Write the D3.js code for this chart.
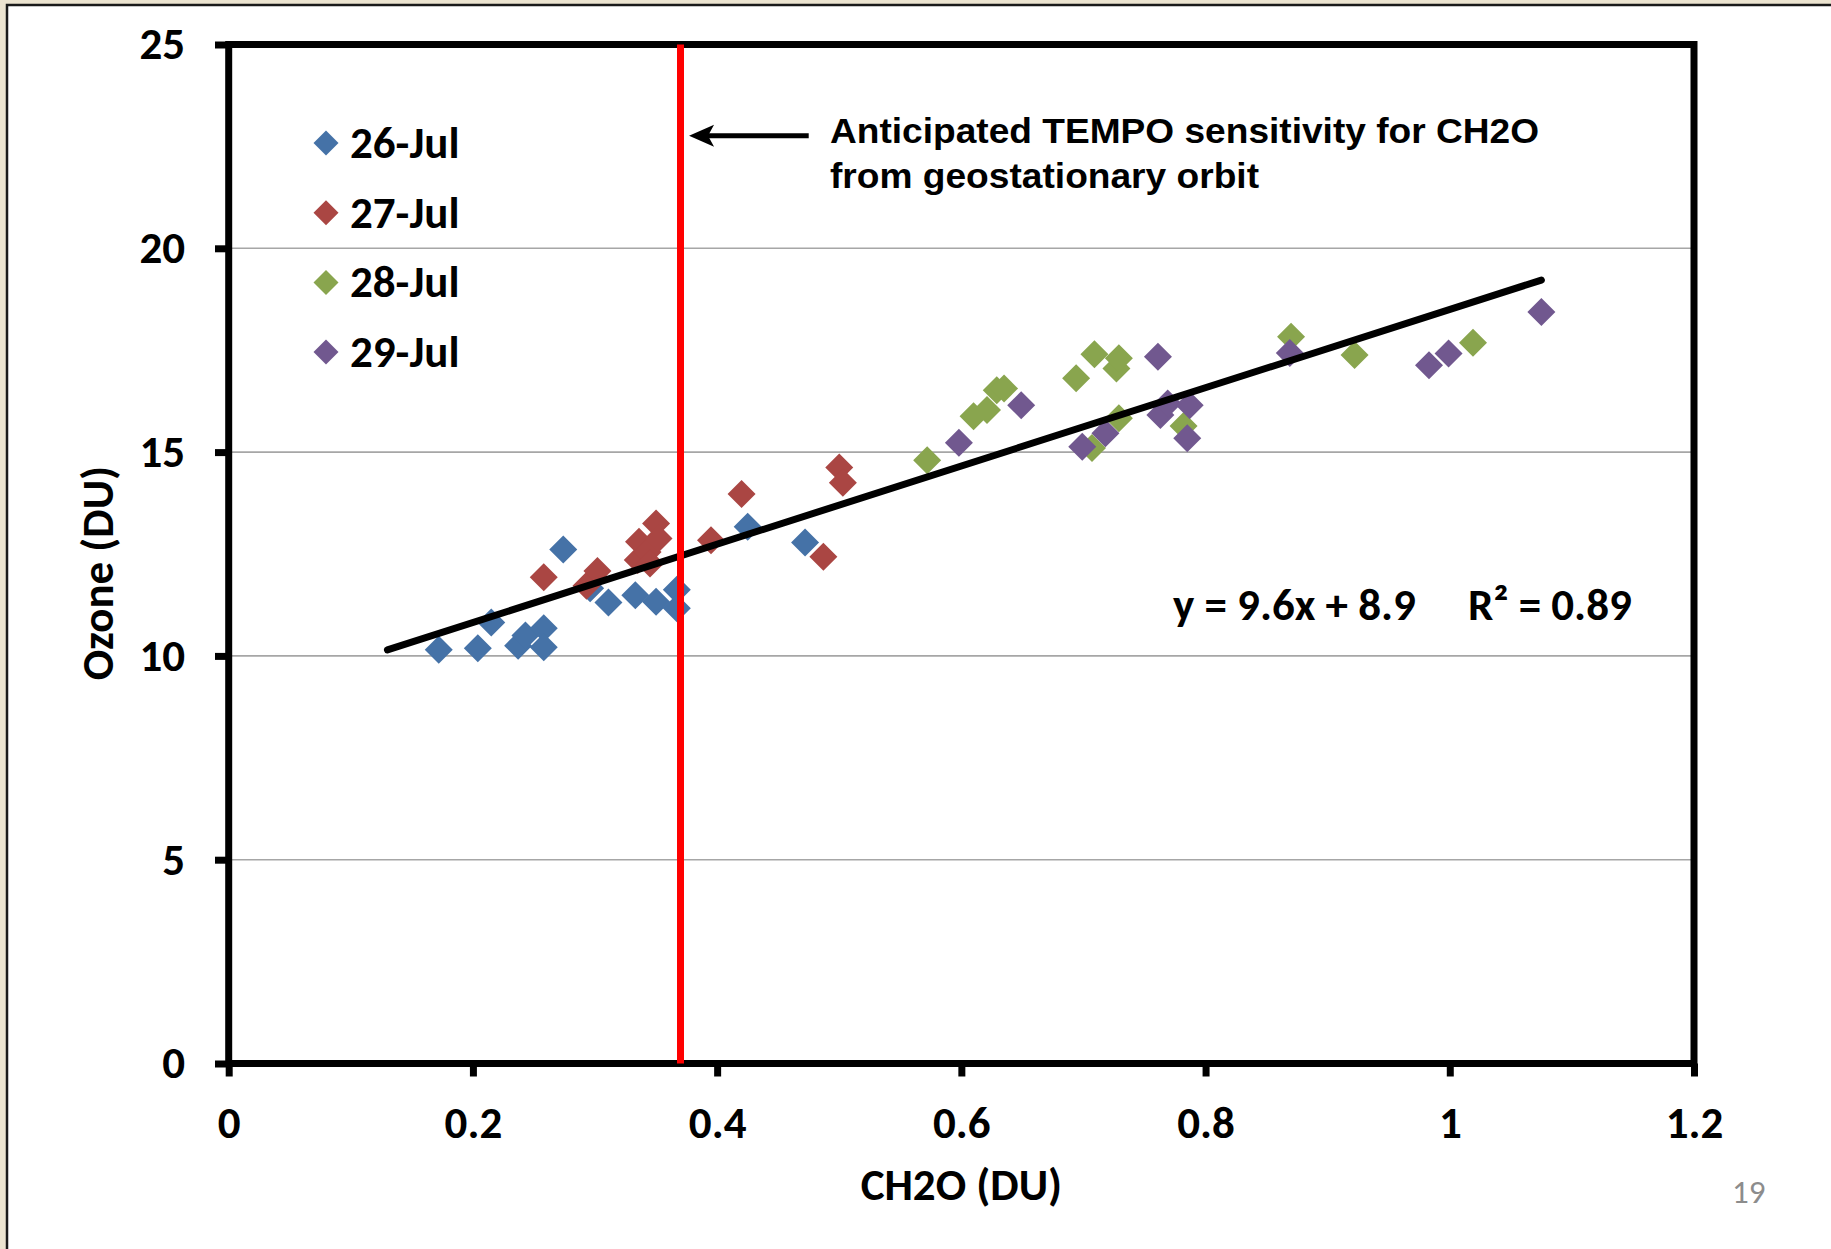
<!DOCTYPE html>
<html>
<head>
<meta charset="utf-8">
<script src="https://cdnjs.cloudflare.com/ajax/libs/d3/7.8.5/d3.min.js"></script>
<style>
  body { margin: 0; background: #fff; }
  svg { display: block; }
</style>
</head>
<body>
<svg width="1831" height="1249"></svg>
<script>
// series as [CH2O, Ozone]
var seriesNames = ["26-Jul", "27-Jul", "28-Jul", "29-Jul"];
var seriesColors = ["#4572A7", "#AA4643", "#89A54E", "#71588F"];

var jul26 = [[0.172, 10.15], [0.204, 10.19], [0.215, 10.82], [0.237, 10.25], [0.243, 10.50],
             [0.258, 10.68], [0.258, 10.21], [0.274, 12.61], [0.296, 11.66], [0.311, 11.31],
             [0.333, 11.49], [0.350, 11.33], [0.367, 11.62], [0.367, 11.17], [0.425, 13.17],
             [0.472, 12.78]];
var jul27 = [[0.258, 11.93], [0.293, 11.72], [0.302, 12.08], [0.335, 12.35], [0.336, 12.80],
             [0.343, 12.55], [0.345, 12.27], [0.350, 13.25], [0.352, 12.88], [0.395, 12.84],
             [0.420, 13.97], [0.487, 12.43], [0.500, 14.62], [0.503, 14.25]];
var jul28 = [[0.572, 14.80], [0.610, 15.88], [0.621, 16.03], [0.629, 16.52], [0.635, 16.56],
             [0.694, 16.81], [0.709, 17.40], [0.707, 15.10], [0.727, 17.05], [0.729, 17.30],
             [0.729, 15.83], [0.782, 15.64], [0.870, 17.83], [0.922, 17.38], [1.019, 17.68]];
var jul29 = [[0.598, 15.23], [0.649, 16.15], [0.699, 15.13], [0.718, 15.46], [0.761, 17.34],
             [0.763, 15.91], [0.769, 16.19], [0.787, 16.15], [0.785, 15.34], [0.869, 17.43],
             [0.983, 17.13], [0.999, 17.42], [1.075, 18.44]];
var allSeries = [jul26, jul27, jul28, jul29];

// trend line y = 9.6x + 8.9 drawn over this x range
var trendSlope = 9.6;
var trendIntercept = 8.9;
var trendRange = [0.13, 1.075];

var tempoLimit = 0.37;           // red vertical line
var arrowX = [0.475, 0.377];     // arrow tail -> tip
var arrowY = 22.76;

var xTicks = [0, 0.2, 0.4, 0.6, 0.8, 1, 1.2];
var xTickLabels = ["0", "0.2", "0.4", "0.6", "0.8", "1", "1.2"];
var yTicks = [0, 5, 10, 15, 20, 25];
var yTickLabels = ["0", "5", "10", "15", "20", "25"];
var gridValues = [5, 10, 15, 20];

var font = "Carlito, Lato, 'Open Sans', sans-serif";
var fontSize = "45px";

var svg = d3.select("svg");

// slide frame
svg.append("rect").attr("width", 1831).attr("height", 1249).attr("fill", "#ece4d0");
svg.append("rect").attr("x", 7).attr("y", 5).attr("width", 1824).attr("height", 1244).attr("fill", "#fff");
svg.append("path").attr("d", "M7,1249 V5 H1831").attr("fill", "none").attr("stroke", "#1a1a1a").attr("stroke-width", 2.5);

var x = d3.scaleLinear().domain([0, 1.2]).range([228.7, 1694]);
var y = d3.scaleLinear().domain([0, 25]).range([1063.5, 44.5]);

// gridlines
svg.append("g").selectAll("line")
   .data(gridValues)
   .enter().append("line")
   .attr("x1", x(0)).attr("x2", x(1.2))
   .attr("y1", function(d) { return y(d); })
   .attr("y2", function(d) { return y(d); })
   .attr("stroke", "#a6a6a6")
   .attr("stroke-width", 1.6);

// axes
var xAxis = svg.append("g")
   .attr("transform", "translate(0," + y(0) + ")")
   .call(d3.axisBottom(x).tickValues(xTicks)
         .tickFormat(function(d, i) { return xTickLabels[i]; })
         .tickSize(13).tickSizeOuter(0).tickPadding(30));
var yAxis = svg.append("g")
   .attr("transform", "translate(" + x(0) + ",0)")
   .call(d3.axisLeft(y).tickValues(yTicks)
         .tickFormat(function(d, i) { return yTickLabels[i]; })
         .tickSize(13.7).tickSizeOuter(0).tickPadding(30));

[xAxis, yAxis].forEach(function(a) {
  a.select(".domain").remove();
  a.selectAll(".tick line").attr("stroke", "#000").attr("stroke-width", 7);
  a.selectAll(".tick text")
   .attr("fill", "#000")
   .style("font-family", font)
   .style("font-weight", "bold")
   .style("font-size", fontSize);
});

// plot border
svg.append("rect")
   .attr("x", x(0)).attr("y", y(25))
   .attr("width", x(1.2) - x(0)).attr("height", y(0) - y(25))
   .attr("fill", "none")
   .attr("stroke", "#000")
   .attr("stroke-width", 7);

// points
var diamond = d3.symbol().type(d3.symbolSquare).size(392);
allSeries.forEach(function(series, i) {
  svg.append("g").selectAll("path")
     .data(series)
     .enter().append("path")
     .attr("d", diamond)
     .attr("transform", function(d) {
       return "translate(" + x(d[0]) + "," + y(d[1]) + ") rotate(45)";
     })
     .attr("fill", seriesColors[i]);
});

// trend line
svg.append("line")
   .attr("x1", x(trendRange[0]))
   .attr("y1", y(trendSlope * trendRange[0] + trendIntercept))
   .attr("x2", x(trendRange[1]))
   .attr("y2", y(trendSlope * trendRange[1] + trendIntercept))
   .attr("stroke", "#000")
   .attr("stroke-width", 7)
   .attr("stroke-linecap", "round");

// TEMPO sensitivity line
svg.append("line")
   .attr("x1", x(tempoLimit)).attr("x2", x(tempoLimit))
   .attr("y1", y(25)).attr("y2", y(0))
   .attr("stroke", "#ff0000")
   .attr("stroke-width", 7);

// arrow
var tipX = x(arrowX[1]), tipY = y(arrowY);
svg.append("line")
   .attr("x1", x(arrowX[0])).attr("y1", tipY)
   .attr("x2", tipX + 18).attr("y2", tipY)
   .attr("stroke", "#000")
   .attr("stroke-width", 5);
svg.append("path")
   .attr("d", "M" + tipX + "," + tipY + " l25,-11 l-6,11 l6,11 z")
   .attr("fill", "#000");

var note = svg.append("text")
   .attr("x", 830).attr("y", 143)
   .style("font-family", "'Liberation Sans', Arial, sans-serif")
   .style("font-weight", "bold")
   .style("font-size", "35px")
   .attr("fill", "#000");
note.append("tspan").attr("x", 830).attr("y", 143)
   .attr("textLength", 709).attr("lengthAdjust", "spacingAndGlyphs")
   .text("Anticipated TEMPO sensitivity for CH2O");
note.append("tspan").attr("x", 830).attr("y", 188)
   .attr("textLength", 429).attr("lengthAdjust", "spacingAndGlyphs")
   .text("from geostationary orbit");

// equation
svg.append("text")
   .attr("x", 1173).attr("y", 620)
   .style("font-family", font).style("font-weight", "bold").style("font-size", fontSize)
   .text("y = 9.6x + 8.9");
svg.append("text")
   .attr("x", 1468).attr("y", 620)
   .style("font-family", font).style("font-weight", "bold").style("font-size", fontSize)
   .text("R\u00b2 = 0.89");

// legend
var legendG = svg.selectAll(".legend")
   .data(seriesNames)
   .enter().append("g")
   .attr("class", "legend")
   .attr("transform", function(d, i) { return "translate(326," + (143 + i * 69.7) + ")"; });
legendG.append("path")
   .attr("d", d3.symbol().type(d3.symbolSquare).size(312))
   .attr("transform", "rotate(45)")
   .attr("fill", function(d, i) { return seriesColors[i]; });
legendG.append("text")
   .attr("x", 24).attr("y", 15)
   .style("font-family", font).style("font-weight", "bold").style("font-size", fontSize)
   .text(function(d) { return d; });

// axis titles
svg.append("text")
   .attr("x", (x(0) + x(1.2)) / 2).attr("y", 1200)
   .attr("text-anchor", "middle")
   .style("font-family", font).style("font-weight", "bold").style("font-size", fontSize)
   .text("CH2O (DU)");
svg.append("text")
   .attr("transform", "translate(113,573) rotate(-90)")
   .attr("text-anchor", "middle")
   .style("font-family", font).style("font-weight", "bold").style("font-size", fontSize)
   .text("Ozone (DU)");

// slide number
svg.append("text")
   .attr("x", 1732).attr("y", 1203)
   .style("font-family", font).style("font-size", "33px")
   .attr("fill", "#8c8c8c")
   .text("19");
</script>
</body>
</html>
